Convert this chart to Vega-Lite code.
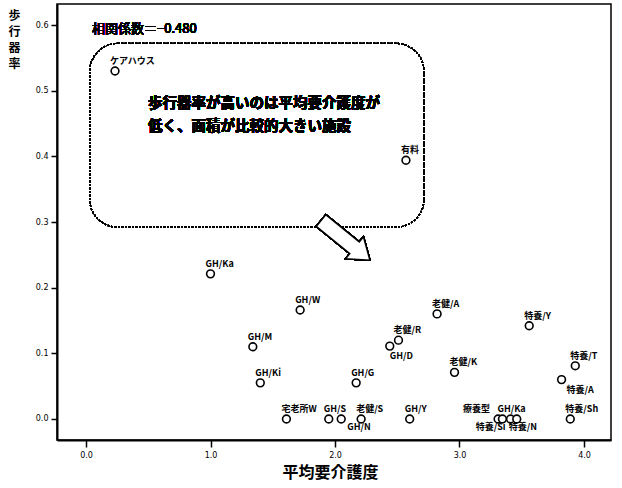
{
  "$schema": "https://vega.github.io/schema/vega-lite/v6.json",
  "autosize": "none",
  "width": 554,
  "height": 436,
  "padding": {"left": 57, "top": 4, "right": 11, "bottom": 48},
  "background": "white",
  "config": {
    "view": {"stroke": "black", "strokeWidth": 1.5},
    "font": "Noto Sans CJK JP",
    "axis": {"grid": false, "domainColor": "black", "domainWidth": 2, "tickColor": "black", "tickWidth": 1.5, "labelColor": "black", "labelFont": "DejaVu Sans", "labelFontSize": 8, "titleColor": "black", "titleFont": "Noto Sans CJK JP", "titleFontWeight": "bold"}
  },
  "data": {"values": [
    {"name": "ケアハウス", "care_level": 0.233, "walker_rate": 0.530},
    {"name": "有料", "care_level": 2.57, "walker_rate": 0.394},
    {"name": "GH/Ka", "care_level": 1.00, "walker_rate": 0.221},
    {"name": "GH/W", "care_level": 1.72, "walker_rate": 0.166},
    {"name": "GH/M", "care_level": 1.34, "walker_rate": 0.110},
    {"name": "GH/Ki", "care_level": 1.40, "walker_rate": 0.055},
    {"name": "宅老所W", "care_level": 1.61, "walker_rate": 0.0},
    {"name": "GH/S", "care_level": 1.95, "walker_rate": 0.0},
    {"name": "GH/N", "care_level": 2.05, "walker_rate": 0.0},
    {"name": "老健/S", "care_level": 2.21, "walker_rate": 0.0},
    {"name": "GH/G", "care_level": 2.17, "walker_rate": 0.055},
    {"name": "GH/D", "care_level": 2.44, "walker_rate": 0.111},
    {"name": "老健/R", "care_level": 2.51, "walker_rate": 0.120},
    {"name": "老健/A", "care_level": 2.82, "walker_rate": 0.160},
    {"name": "老健/K", "care_level": 2.96, "walker_rate": 0.071},
    {"name": "GH/Y", "care_level": 2.60, "walker_rate": 0.0},
    {"name": "療養型", "care_level": 3.31, "walker_rate": 0.0},
    {"name": "GH/Ka", "care_level": 3.345, "walker_rate": 0.0},
    {"name": "特養/Si", "care_level": 3.41, "walker_rate": 0.0},
    {"name": "特養/N", "care_level": 3.46, "walker_rate": 0.0},
    {"name": "特養/Y", "care_level": 3.56, "walker_rate": 0.142},
    {"name": "特養/T", "care_level": 3.93, "walker_rate": 0.081},
    {"name": "特養/A", "care_level": 3.82, "walker_rate": 0.060},
    {"name": "特養/Sh", "care_level": 3.89, "walker_rate": 0.0}
  ]},
  "encoding": {
    "x": {"field": "care_level", "type": "quantitative", "scale": {"domain": [-0.233, 4.217], "nice": false, "zero": false},
      "axis": {"values": [0, 1, 2, 3, 4], "format": ".1f", "tickSize": 7, "labelPadding": 4, "title": "平均要介護度", "titleFontSize": 16, "titleX": 273, "titleY": 32, "titleBaseline": "middle"}},
    "y": {"field": "walker_rate", "type": "quantitative", "scale": {"domain": [-0.032, 0.632], "nice": false, "zero": false},
      "axis": {"values": [0, 0.1, 0.2, 0.3, 0.4, 0.5, 0.6], "format": ".1f", "tickSize": 6, "labelPadding": 3, "title": ["歩", "行", "器", "率"], "titleAngle": 0, "titleFontSize": 12, "titleLineHeight": 16, "titleX": -43, "titleY": 6, "titleAlign": "center", "titleBaseline": "top"}}
  },
  "layer": [
    {"mark": {"type": "rect", "fill": null, "stroke": "black", "strokeWidth": 1.2, "strokeDash": [2, 1.5], "cornerRadius": 28},
     "encoding": {"x": {"datum": 0.03}, "x2": {"datum": 2.715}, "y": {"datum": 0.572}, "y2": {"datum": 0.292}}},
    {"mark": {"type": "point", "shape": "M -1 -0.24 L 0.37 -0.24 L 0.37 -0.45 L 1 0 L 0.37 0.45 L 0.37 0.24 L -1 0.24 Z", "angle": 39, "size": 3970, "filled": true, "fill": "white", "stroke": "black", "strokeWidth": 1.5, "opacity": 1},
     "encoding": {"x": {"datum": 2.084}, "y": {"datum": 0.272}}},
    {"mark": {"type": "text", "text": "相関係数＝−0.480", "align": "left", "baseline": "middle", "fontSize": 13, "fontWeight": "normal", "font": "Noto Sans CJK JP"},
     "encoding": {"x": {"datum": 0.048}, "y": {"datum": 0.594}}},
    {"mark": {"type": "text", "text": "歩行器率が高いのは平均要介護度が", "align": "left", "baseline": "middle", "fontSize": 14.5, "fontWeight": "bold"},
     "encoding": {"x": {"datum": 0.498}, "y": {"datum": 0.479}}},
    {"mark": {"type": "text", "text": "低く、面積が比較的大きい施設", "align": "left", "baseline": "middle", "fontSize": 14.5, "fontWeight": "bold"},
     "encoding": {"x": {"datum": 0.498}, "y": {"datum": 0.444}}},
    {"mark": {"type": "point", "shape": "circle", "size": 60, "filled": false, "stroke": "black", "strokeWidth": 1.6, "fill": "white", "opacity": 1}},
    {"transform": [{"filter": {"not": {"field": "name", "oneOf": ["GH/D", "GH/N", "特養/A", "特養/N", "特養/Si", "療養型"]}}}],
     "mark": {"type": "text", "align": "left", "baseline": "alphabetic", "dx": -5, "dy": -7, "fontSize": 9, "fontWeight": "bold"},
     "encoding": {"text": {"field": "name"}}},
    {"transform": [{"filter": {"field": "name", "equal": "GH/D"}}],
     "mark": {"type": "text", "align": "left", "baseline": "top", "dx": 0, "dy": 6, "fontSize": 9, "fontWeight": "bold"},
     "encoding": {"text": {"field": "name"}}},
    {"transform": [{"filter": {"field": "name", "equal": "GH/N"}}],
     "mark": {"type": "text", "align": "left", "baseline": "top", "dx": 6, "dy": 4, "fontSize": 9, "fontWeight": "bold"},
     "encoding": {"text": {"field": "name"}}},
    {"transform": [{"filter": {"field": "name", "equal": "特養/A"}}],
     "mark": {"type": "text", "align": "left", "baseline": "middle", "dx": 5, "dy": 10, "fontSize": 9, "fontWeight": "bold"},
     "encoding": {"text": {"field": "name"}}},
    {"transform": [{"filter": {"field": "name", "equal": "特養/Si"}}],
     "mark": {"type": "text", "align": "right", "baseline": "middle", "dx": -5, "dy": 8, "fontSize": 9, "fontWeight": "bold"},
     "encoding": {"text": {"field": "name"}}},
    {"transform": [{"filter": {"field": "name", "equal": "特養/N"}}],
     "mark": {"type": "text", "align": "left", "baseline": "middle", "dx": -8, "dy": 8, "fontSize": 9, "fontWeight": "bold"},
     "encoding": {"text": {"field": "name"}}},
    {"transform": [{"filter": {"field": "name", "equal": "療養型"}}],
     "mark": {"type": "text", "align": "right", "baseline": "middle", "dx": -8, "dy": -10, "fontSize": 9, "fontWeight": "bold"},
     "encoding": {"text": {"field": "name"}}}
  ]
}
